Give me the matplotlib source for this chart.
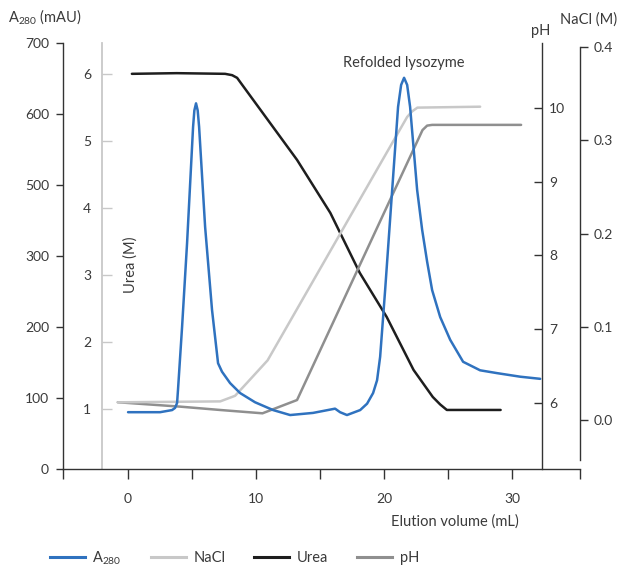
import matplotlib
matplotlib.use("Agg")
import matplotlib.pyplot as plt

plt.rcParams['font.family'] = ['Lato', 'DejaVu Sans']
plt.rcParams['mathtext.default'] = 'regular'
plt.rcParams['font.size'] = 10

TXT = '#3a3a3a'
BLUE = '#2f72bf'
LIGHT = '#c8c8c8'
DARK = '#1e1e1e'
MID = '#8f8f8f'

# A280 trace (values in axis units as drawn; the tick labels skip 400)
a280_ml = [0.0, 2.5, 3.44, 3.67, 3.83, 3.9, 4.22, 4.61, 5.08, 5.18, 5.31, 5.44,
           5.55, 6.02, 6.56, 7.03, 7.34, 7.97, 8.75, 9.92, 11.33, 12.66, 14.45,
           16.17, 16.56, 17.1, 18.13, 18.67, 19.14, 19.45, 19.69, 20.08, 20.63,
           21.09, 21.33, 21.56, 21.8, 22.03, 22.58, 22.97, 23.36, 23.75, 24.38,
           25.16, 26.17, 27.5, 28.83, 30.63, 32.19]
a280_val = [80, 80, 83, 86, 93, 111, 200, 318, 482, 505, 515, 505,
            482, 341, 224, 149, 137, 121, 107, 94, 83, 76, 79,
            85, 80, 76, 83, 92, 107, 125, 158, 252, 393,
            510, 541, 551, 541, 510, 393, 337, 292, 252, 214,
            182, 151, 139, 135, 130, 127]

# urea gradient (M)
urea_ml = [0.3, 3.8, 7.58, 8.13, 8.52, 8.9, 13.2, 15.8, 18.1, 20.2, 22.3, 23.8,
           24.38, 24.9, 29.1]
urea_val = [6.0, 6.01, 6.0, 5.98, 5.94, 5.84, 4.716, 3.925, 3.03, 2.373, 1.582,
            1.179, 1.067, 0.985, 0.985]

# NaCl gradient (M)
nacl_ml = [-0.8, 7.2, 8.36, 9.3, 10.9, 21.8, 22.19, 22.6, 27.5]
nacl_val = [0.019, 0.020, 0.026, 0.040, 0.064, 0.325, 0.331, 0.335, 0.336]

# pH gradient
ph_ml = [-0.8, 4.1, 7.2, 10.5, 13.2, 23.0, 23.36, 23.75, 30.7]
ph_val = [6.01, 5.95, 5.905, 5.86, 6.04, 9.70, 9.76, 9.77, 9.77]

a280_ticks = [0, 100, 200, 300, 400, 500, 600]
a280_labels = ['0', '100', '200', '300', '500', '600', '700']
urea_ticks = [1, 2, 3, 4, 5, 6]
ph_ticks = [6, 7, 8, 9, 10]
nacl_ticks = [0.0, 0.1, 0.2, 0.3, 0.4]
x_ticks = [0, 10, 20, 30]

XMIN, XMAX = -5.08, 35.3
line_kw = dict(lw=1.8, solid_joinstyle='round', solid_capstyle='round')

fig = plt.figure(figsize=(6.19, 5.71), dpi=100)
ax = fig.add_axes([63 / 619, 102 / 571, 517 / 619, 426 / 571])

# main A280 axis
ax.set_xlim(XMIN, XMAX)
ax.set_ylim(0, 600)
ax.spines['top'].set_visible(False)
ax.spines['right'].set_visible(False)
for s in ('left', 'bottom'):
    ax.spines[s].set_color('#333333')
    ax.spines[s].set_linewidth(1.0)
ax.set_yticks(a280_ticks)
ax.set_yticklabels(a280_labels)
ax.tick_params(axis='y', direction='out', length=5, width=1, pad=5,
               colors='#333333', labelcolor=TXT)
ax.set_xticks(x_ticks)
ax.set_xticks([XMIN, 5, 15, 25, XMAX], minor=True)
ax.tick_params(axis='x', which='both', direction='out', length=7, width=1,
               colors='#333333', labelcolor=TXT, pad=10)

# urea axis (inner left)
ax_u = ax.twinx()
ax_u.set_ylim(0.104, 6.46)
ax_u.spines['left'].set_visible(True)
ax_u.spines['left'].set_position(('data', -2.0))
ax_u.spines['left'].set_color(LIGHT)
ax_u.spines['left'].set_linewidth(1.3)
for s in ('right', 'top', 'bottom'):
    ax_u.spines[s].set_visible(False)
ax_u.yaxis.set_ticks_position('left')
ax_u.set_yticks(urea_ticks)
ax_u.tick_params(axis='y', direction='in', length=7, width=1, pad=8,
                 colors=LIGHT, labelcolor=TXT)
ax_u.plot(urea_ml, urea_val, color=DARK, **line_kw)

# pH axis
ax_p = ax.twinx()
ax_p.set_ylim(5.105, 10.88)
for s in ('left', 'top', 'bottom'):
    ax_p.spines[s].set_visible(False)
ax_p.spines['right'].set_position(('axes', (542 - 63) / 517))
ax_p.spines['right'].set_color('#333333')
ax_p.spines['right'].set_linewidth(1.0)
ax_p.set_yticks(ph_ticks)
ax_p.tick_params(axis='y', direction='in', length=6, width=1, pad=5,
                 colors='#333333', labelcolor=TXT)
ax_p.plot(ph_ml, ph_val, color=MID, **line_kw)

# NaCl axis (far right)
ax_n = ax.twinx()
ax_n.set_ylim(-0.0525, 0.4043)
for s in ('left', 'top', 'bottom'):
    ax_n.spines[s].set_visible(False)
ax_n.spines['right'].set_bounds(-0.043, 0.4)
ax_n.spines['right'].set_color('#333333')
ax_n.spines['right'].set_linewidth(1.0)
ax_n.set_yticks(nacl_ticks)
ax_n.set_yticklabels([f'{v:.1f}' for v in nacl_ticks])
ax_n.tick_params(axis='y', direction='out', length=6, width=1, pad=4,
                 colors='#333333', labelcolor=TXT)
ax_n.plot(nacl_ml, nacl_val, color=LIGHT, **line_kw)

# A280 on top of everything
ax.set_zorder(5)
ax.patch.set_visible(False)
ax.plot(a280_ml, a280_val, color=BLUE, **line_kw)

peak = a280_val.index(max(a280_val))
ax.annotate('Refolded lysozyme', xy=(a280_ml[peak], a280_val[peak]),
            xytext=(0, 15), textcoords='offset pixels', ha='center', va='center',
            color=TXT, fontsize=10.5)

# axis titles
fig.text(8 / 619, 1 - 17 / 571, r'A$_{280}$ (mAU)', ha='left', va='center', color=TXT, fontsize=10.5)
fig.text(131 / 619, 1 - 265 / 571, 'Urea (M)', rotation=90, ha='center', va='center', color=TXT, fontsize=10.5)
fig.text(541 / 619, 1 - 31 / 571, 'pH', ha='center', va='center', color=TXT, fontsize=10.5)
fig.text(589 / 619, 1 - 20 / 571, 'NaCl (M)', ha='center', va='center', color=TXT, fontsize=10.5)
fig.text(455 / 619, 1 - 522 / 571, 'Elution volume (mL)', ha='center', va='center', color=TXT, fontsize=10.5)

# legend
handles = [plt.Line2D([], [], color=c, lw=2.2) for c in (BLUE, LIGHT, DARK, MID)]
fig.legend(handles, [r'A$_{280}$', 'NaCl', 'Urea', 'pH'], ncol=4, frameon=False,
           loc='center left', bbox_to_anchor=(50 / 619, 13 / 571),
           handlelength=2.4, handletextpad=0.5, columnspacing=2.0,
           borderpad=0, borderaxespad=0, labelcolor=TXT, fontsize=10.5)

fig.savefig('out.png', dpi=100)
